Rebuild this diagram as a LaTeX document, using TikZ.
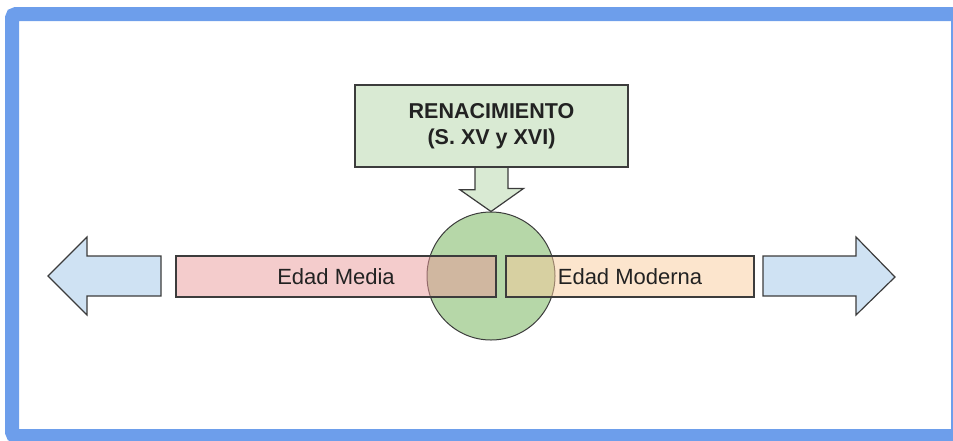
\documentclass[tikz,border=0pt]{standalone}
\usepackage{fontspec}
\setmainfont{Liberation Sans}
\usepackage{tikz}
\usetikzlibrary{shapes}

\begin{document}
\begin{tikzpicture}[x=1pt,y=1pt,yscale=-1,
    edge/.style={draw={rgb, 255:red, 60; green, 60; blue, 60 }, line width=1.2},
    period/.style={edge, fill opacity=0.5, text opacity=1, minimum height=41pt, inner sep=0pt, text={rgb, 255:red, 34; green, 34; blue, 34 }, font=\fontsize{22}{26}\selectfont},
    blockarrow/.style={edge, fill={rgb, 255:red, 207; green, 226; blue, 243 }},
    ]
    \clip (0,0) rectangle (953,440);
    %Shape: Frame
    \draw [color={rgb, 255:red, 109; green, 158; blue, 235 }, line width=14, rounded corners=4]  (12,14) rectangle (958,436) ;
    %Shape: Circle
    \node [circle, edge, line width=1, fill={rgb, 255:red, 182; green, 215; blue, 168 }, minimum size=128pt, inner sep=0pt] (renac) at (491,276) {};
    %Shape: Rectangle
    \node [period, fill={rgb, 255:red, 234; green, 153; blue, 153 }, minimum width=320pt] (media) at (336,276.5) {Edad Media};
    %Shape: Rectangle
    \node [period, fill={rgb, 255:red, 249; green, 203; blue, 156 }, minimum width=248pt] (moderna) at (630,276.5) {Edad Moderna};
    %Shape: Left Arrow
    \draw [blockarrow]  (161,256) -- (87,256) -- (87,237) -- (48,276) -- (87,315) -- (87,296) -- (161,296) -- cycle ;
    %Shape: Right Arrow
    \draw [blockarrow]  (763,256) -- (856,256) -- (856,237) -- (895,277) -- (856,315) -- (856,296) -- (763,296) -- cycle ;
    %Shape: Rectangle
    \node [edge, fill={rgb, 255:red, 217; green, 234; blue, 211 }, minimum width=273pt, minimum height=82pt, align=center, text={rgb, 255:red, 34; green, 34; blue, 34 }, font=\fontsize{21.5}{26}\selectfont\bfseries] (titulo) at (491.5,126) {RENACIMIENTO\\(S. XV y XVI)};
    %Shape: Down Arrow
    \draw [edge, fill={rgb, 255:red, 217; green, 234; blue, 211 }]  ([xshift=-16.5pt,yshift=0.6pt]titulo.south) -- ++(0,21.6) -- ++(-15,0) -- (renac.north) -- ++(32.5,-23) -- ++(-15.5,0) -- ([xshift=16.5pt,yshift=0.6pt]titulo.south) ;
\end{tikzpicture}
\end{document}
